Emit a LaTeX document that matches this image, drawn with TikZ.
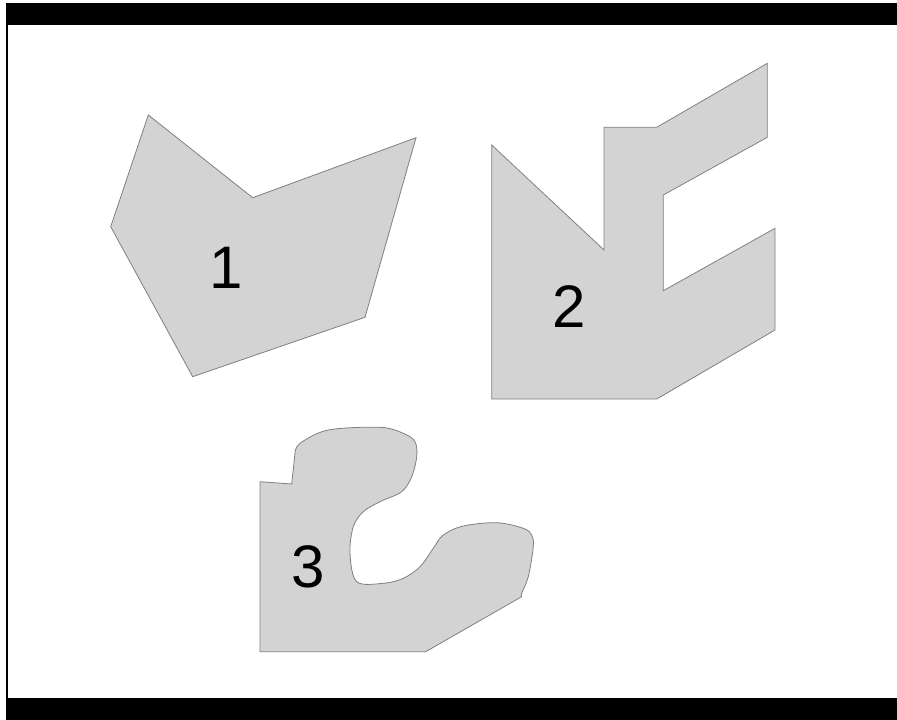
\documentclass[tikz,border=0pt]{standalone}
\usepackage{fontspec}
\setmainfont{Liberation Sans}
\usepackage{tikz}

\begin{document}
\begin{tikzpicture}[x=1pt, y=-1pt,
    region/.style={fill={rgb,255:red,211;green,211;blue,211}, draw={rgb,255:red,128;green,128;blue,128}, line width=0.8pt, line join=miter},
    tag/.style={inner sep=0pt, font=\fontsize{60}{60}\selectfont}]
    \useasboundingbox (0,0) rectangle (897,720);
    % frame
    \fill[black] (6,3) rectangle (897,25);
    \fill[black] (6,698) rectangle (897,720);
    \fill[black] (6,3) rectangle (7.5,720);

    % region 1
    \filldraw[region] (148.3,115) -- (252.7,197.7) -- (416,137.7) -- (365,317.3)
        -- (192.7,376.7) -- (110.7,226.7) -- cycle;

    % region 2
    \filldraw[region] (491.7,145) -- (604,250) -- (604,127.3) -- (656.7,127.3)
        -- (767.3,63.3) -- (767.3,137.3) -- (663.3,195) -- (663.3,290.7)
        -- (775,228.3) -- (775,330) -- (656.7,399) -- (491.7,399) -- cycle;

    % region 3
    \filldraw[region] (260,481.7) -- (291.7,484)
        -- plot[smooth, tension=0.55] coordinates {(295,453.3) (300,443.3) (328.3,430)
            (380,427.3) (403.3,433.3) (415,441.7) (416.7,456.7) (411.7,476.7)
            (401.7,491.7) (380,501.7) (363.3,511.7) (353.3,526.7) (350,553.3)
            (356.7,581.7) (383.3,583.3) (403.3,578.3) (420,566.7) (433.3,548.3)
            (443.3,535) (463.3,526) (496.7,522.7) (523.3,528.3) (531.7,535)
            (533.3,546.7) (528.3,576.7) (521.7,593.3) (521.7,596.7)}
        -- (425.7,651.7) -- (260,651.7) -- cycle;

    % labels
    \node[tag] (one) at (226,268) {1};
    \node[tag] (two) at (569.3,306.7) {2};
    \node[tag] (three) at (308.3,566.7) {3};
\end{tikzpicture}
\end{document}
